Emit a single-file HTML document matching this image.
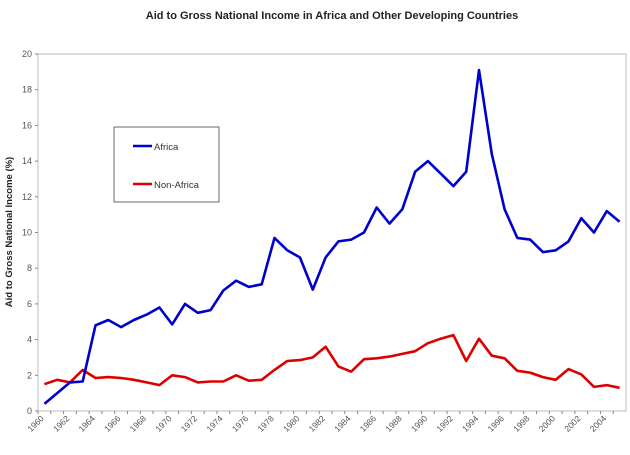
<!DOCTYPE html>
<html><head><meta charset="utf-8"><style>
body{margin:0;background:#fff;}
svg text{font-family:"Liberation Sans",sans-serif;}
</style></head><body>
<svg id="chart" width="630" height="450" xmlns="http://www.w3.org/2000/svg">
<text x="332" y="19" text-anchor="middle" font-size="11" font-weight="bold" fill="#222">Aid to Gross National Income in Africa and Other Developing Countries</text>
<text transform="translate(12,232) rotate(-90)" text-anchor="middle" font-size="9.5" font-weight="bold" fill="#222">Aid to Gross National Income (%)</text>
<rect x="38" y="54" width="588" height="357" fill="none" stroke="#bbb" stroke-width="1"/>
<g id="axes"></g>
<g id="series"></g>
<g>
<rect x="114" y="127" width="105" height="75" fill="#fff" stroke="#444" stroke-width="0.8"/>
<line x1="133" y1="146" x2="152" y2="146" stroke="#0000cc" stroke-width="2.5"/>
<text x="154" y="150" font-size="9.5" fill="#333">Africa</text>
<line x1="133" y1="184" x2="152" y2="184" stroke="#dd0000" stroke-width="2.5"/>
<text x="154" y="188" font-size="9.5" fill="#333">Non-Africa</text>
</g>
</svg>
<script>
const years = [];
for (let y = 1960; y <= 2005; y++) years.push(y);
const africa = [0.4,1.0,1.6,1.65,4.8,5.1,4.7,5.1,5.4,5.8,4.85,6.0,5.5,5.65,6.75,7.3,6.95,7.1,9.7,9.0,8.6,6.8,8.6,9.5,9.6,10.0,11.4,10.5,11.3,13.4,14.0,13.3,12.6,13.4,19.1,14.4,11.3,9.7,9.6,8.9,9.0,9.5,10.8,10.0,11.2,10.6];
const nonAfrica = [1.5,1.75,1.6,2.3,1.85,1.9,1.85,1.75,1.6,1.45,2.0,1.9,1.6,1.65,1.65,2.0,1.7,1.75,2.3,2.8,2.85,3.0,3.6,2.5,2.2,2.9,2.95,3.05,3.2,3.35,3.8,4.05,4.25,2.8,4.05,3.1,2.95,2.25,2.15,1.9,1.75,2.35,2.05,1.35,1.45,1.3];
const yTicks = [0,2,4,6,8,10,12,14,16,18,20];

const NS = "http://www.w3.org/2000/svg";
const L = 38, R = 626, T = 54, B = 411;
const bw = (R - L) / years.length;
const xs = i => L + bw * (i + 0.5);
const ys = v => B - (v / 20) * (B - T);
function mk(tag, attrs, parent) {
  const e = document.createElementNS(NS, tag);
  for (const k in attrs) e.setAttribute(k, attrs[k]);
  parent.appendChild(e);
  return e;
}
const axes = document.getElementById('axes');
yTicks.forEach(v => {
  const t = mk('line', {x1: L - 3, x2: L, y1: ys(v), y2: ys(v), stroke: '#888'}, axes);
  
  
  const lb = mk('text', {x: L - 6, y: ys(v) + 3, 'text-anchor': 'end', 'font-size': '9', fill: '#555'}, axes);
  lb.textContent = v;
  
  
});
years.forEach((yr, i) => {
  const t = mk('line', {x1: L + bw * i, x2: L + bw * i, y1: B, y2: B + 3, stroke: '#888'}, axes);
  
  
  if (i % 2 === 0) {
    const x = xs(i), y = B + 8;
    const lb = mk('text', {x: x, y: y, 'text-anchor': 'end', 'font-size': '8.5', fill: '#555', transform: `rotate(-45 ${x} ${y})`}, axes);
    lb.textContent = yr;
    
    
  }
});
const series = document.getElementById('series');
function line(data, color, name) {
  const pts = data.map((v, i) => xs(i).toFixed(1) + ',' + ys(v).toFixed(1)).join(' ');
  const p = mk('polyline', {points: pts, fill: 'none', stroke: color, 'stroke-width': 2.6, 'stroke-linejoin': 'round'}, series);
  
  
}
line(nonAfrica, '#dd0000', 'non-africa-line');
line(africa, '#0000cc', 'africa-line');
</script>
</body></html>
